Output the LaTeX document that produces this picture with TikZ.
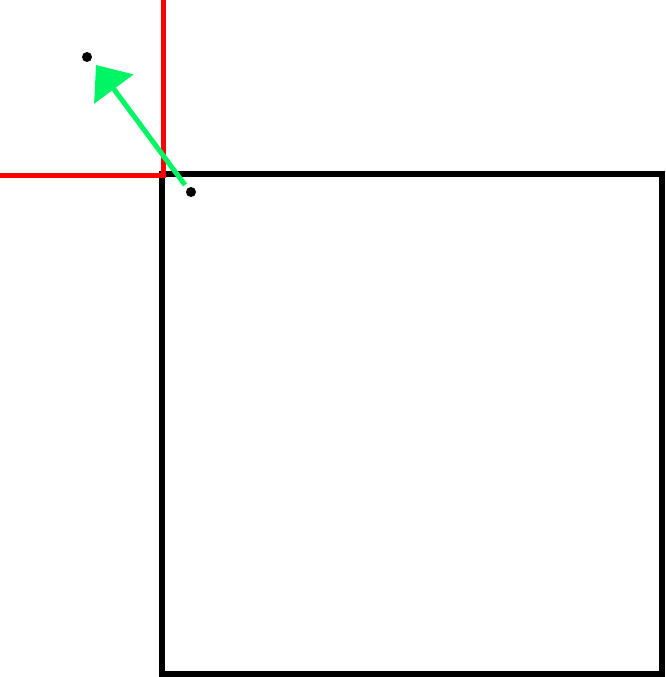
\documentclass[tikz,border=0pt]{standalone}
\usepackage{tikz}
\usetikzlibrary{arrows.meta}
\definecolor{arrowgreen}{RGB}{0,245,100}

\begin{document}
\begin{tikzpicture}[x=1pt, y=-1pt]
\useasboundingbox (0,0) rectangle (665,677);
% Box
\draw[line width=6pt, black] (162,174) rectangle (662,674);
% Red corner
\draw[line width=5pt, red] (0,175.5) -- (163.5,175.5) -- (163.5,0);
% Points
\node[circle, fill=black, inner sep=0pt, minimum size=10pt] (p0) at (87,57) {};
\node[circle, fill=black, inner sep=0pt, minimum size=10pt] (p1) at (191,192) {};
% Move arrow
\coordinate (from) at (185,185);
\coordinate (to) at (96,65);
\draw[line width=5pt, arrowgreen, -{Triangle[length=30pt, width=48pt]}] (from) -- (to);
\end{tikzpicture}
\end{document}
